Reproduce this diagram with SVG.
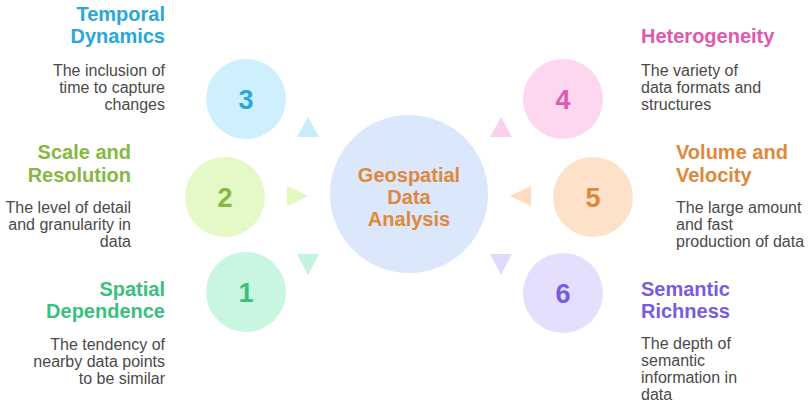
<svg xmlns="http://www.w3.org/2000/svg" width="810" height="403" viewBox="0 0 810 403">
<style>
.t{font-family:"Liberation Sans",Arial,sans-serif;font-weight:bold;font-size:20px}
.d{font-family:"Liberation Sans",Arial,sans-serif;font-size:16px;fill:#4a4a4a}
.n{font-family:"Liberation Sans",Arial,sans-serif;font-weight:bold;font-size:27px;text-anchor:middle}
.r{text-anchor:end}
</style>
<rect width="810" height="403" fill="#ffffff"/>
<g id="center">
<circle cx="409" cy="194" r="79" fill="#dbe7fb"/>
<text class="t" x="409" y="182" text-anchor="middle" fill="#e0883a">Geospatial</text>
<text class="t" x="409" y="204" text-anchor="middle" fill="#e0883a">Data</text>
<text class="t" x="409" y="226" text-anchor="middle" fill="#e0883a">Analysis</text>
</g>
<g id="connectors">
<polygon points="308,117 297,137 319,137" fill="#c9eefb"/>
<polygon points="501,117 490,137 512,137" fill="#fbd0ec"/>
<polygon points="287,186 287,206 308,196" fill="#e2f8bd"/>
<polygon points="531,186 531,206 510,196" fill="#fddcbf"/>
<polygon points="297,254 319,254 308,275" fill="#c4f3dd"/>
<polygon points="490,254 512,254 501,275" fill="#e0d9fb"/>
</g>
<g id="node3">
<circle cx="246" cy="99" r="40" fill="#cdf0fc"/>
<text class="n" x="246" y="109" fill="#2aa7d6">3</text>
<text class="t r" x="165" y="21" fill="#2aa7d6">Temporal</text>
<text class="t r" x="165" y="43" fill="#2aa7d6">Dynamics</text>
<text class="d r" x="165" y="76">The inclusion of</text>
<text class="d r" x="165" y="93">time to capture</text>
<text class="d r" x="165" y="110">changes</text>
</g>
<g id="node2">
<circle cx="225" cy="197" r="40" fill="#e4f9c5"/>
<text class="n" x="225" y="207" fill="#86b842">2</text>
<text class="t r" x="131" y="159" fill="#86b842">Scale and</text>
<text class="t r" x="131" y="182" fill="#86b842">Resolution</text>
<text class="d r" x="131" y="213">The level of detail</text>
<text class="d r" x="131" y="230">and granularity in</text>
<text class="d r" x="131" y="247">data</text>
</g>
<g id="node1">
<circle cx="246" cy="292" r="40" fill="#c8f6e0"/>
<text class="n" x="246" y="302" fill="#3bbf7c">1</text>
<text class="t r" x="165" y="296" fill="#3bbf7c">Spatial</text>
<text class="t r" x="165" y="318" fill="#3bbf7c">Dependence</text>
<text class="d r" x="165" y="350">The tendency of</text>
<text class="d r" x="165" y="367">nearby data points</text>
<text class="d r" x="165" y="384">to be similar</text>
</g>
<g id="node4">
<circle cx="563" cy="99" r="40" fill="#fdd6f0"/>
<text class="n" x="563" y="109" fill="#de5aae">4</text>
<text class="t" x="641" y="43" fill="#de5aae">Heterogeneity</text>
<text class="d" x="641" y="76">The variety of</text>
<text class="d" x="641" y="93">data formats and</text>
<text class="d" x="641" y="110">structures</text>
</g>
<g id="node5">
<circle cx="593" cy="197" r="40" fill="#fde2c9"/>
<text class="n" x="593" y="207" fill="#e0883a">5</text>
<text class="t" x="676" y="159" fill="#e0883a">Volume and</text>
<text class="t" x="676" y="182" fill="#e0883a">Velocity</text>
<text class="d" x="676" y="213">The large amount</text>
<text class="d" x="676" y="230">and fast</text>
<text class="d" x="676" y="247">production of data</text>
</g>
<g id="node6">
<circle cx="563" cy="293" r="40" fill="#e5defc"/>
<text class="n" x="563" y="303" fill="#785ce0">6</text>
<text class="t" x="641" y="296" fill="#785ce0">Semantic</text>
<text class="t" x="641" y="318" fill="#785ce0">Richness</text>
<text class="d" x="641" y="349">The depth of</text>
<text class="d" x="641" y="366">semantic</text>
<text class="d" x="641" y="383">information in</text>
<text class="d" x="641" y="400">data</text>
</g>
</svg>
